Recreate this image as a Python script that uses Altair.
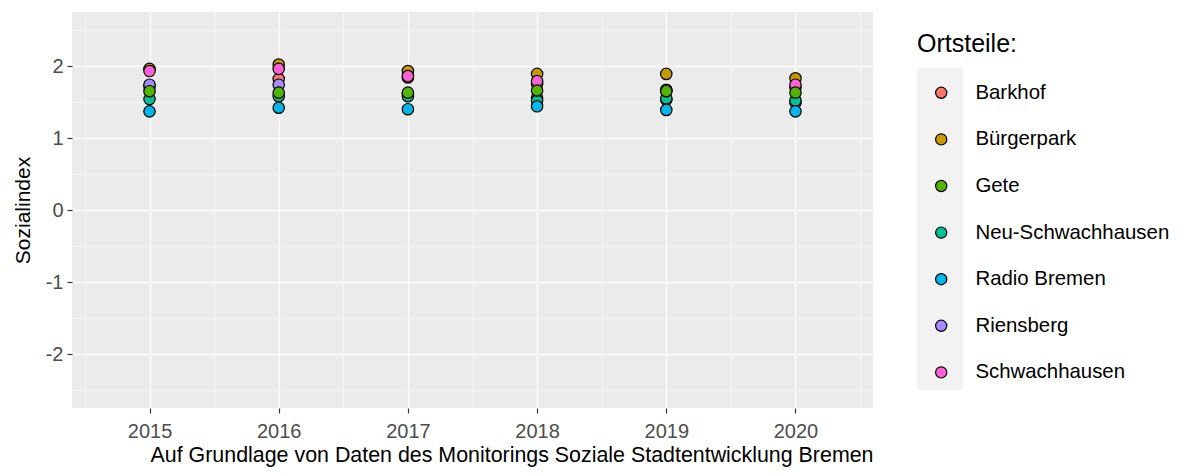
import altair as alt
import pandas as pd

years = [2015, 2016, 2017, 2018, 2019, 2020]
ortsteile = ["Barkhof", "Bürgerpark", "Gete", "Neu-Schwachhausen",
             "Radio Bremen", "Riensberg", "Schwachhausen"]
colors = ["#F8766D", "#C49A00", "#53B400", "#00C094", "#00B6EB", "#A58AFF", "#FB61D7"]

barkhof = [1.72, 1.82, 1.84, 1.75, 1.66, 1.70]
buergerpark = [1.96, 2.02, 1.93, 1.89, 1.89, 1.83]
gete = [1.65, 1.63, 1.63, 1.66, 1.65, 1.63]
neu_schwachhausen = [1.54, 1.58, 1.58, 1.52, 1.55, 1.52]
radio_bremen = [1.37, 1.42, 1.40, 1.44, 1.39, 1.37]
riensberg = [1.74, 1.74, 1.62, 1.56, 1.53, 1.49]
schwachhausen = [1.93, 1.96, 1.86, 1.79, 1.67, 1.74]

series = {
    "Barkhof": barkhof, "Bürgerpark": buergerpark, "Gete": gete,
    "Neu-Schwachhausen": neu_schwachhausen, "Radio Bremen": radio_bremen,
    "Riensberg": riensberg, "Schwachhausen": schwachhausen,
}
draw_order = ["Bürgerpark", "Barkhof", "Schwachhausen", "Riensberg",
              "Neu-Schwachhausen", "Gete", "Radio Bremen"]

rows = []
for i, name in enumerate(draw_order):
    for y, v in zip(years, series[name]):
        rows.append({"Jahr": y, "Sozialindex": v, "Ortsteil": name, "key": "_" + name, "o": i})
df = pd.DataFrame(rows)
keys = ["_" + n for n in ortsteile]

x_vals = [2014.5 + 0.5 * k for k in range(13)]
y_vals = [-2.5 + 0.5 * k for k in range(11)]

is_major = "datum.value % 1 == 0"
label_expr = f"{is_major} ? '' + datum.value : ''"

x_axis = alt.Axis(
    values=x_vals,
    labelExpr=label_expr,
    grid=True,
    gridColor="white",
    gridWidth=alt.condition(is_major, alt.value(1.3), alt.value(0.6)),
    tickOpacity=alt.condition(is_major, alt.value(1), alt.value(0)),
    tickColor="#333333", tickSize=5, tickWidth=1.2,
    domain=False,
    labelColor="#4D4D4D", labelFontSize=20, labelFont="Liberation Sans",
    labelPadding=8,
    title="Auf Grundlage von Daten des Monitorings Soziale Stadtentwicklung Bremen",
    titleAnchor="end", titleAlign="right", titleFontSize=21.4,
    titleFont="Liberation Sans", titleFontWeight="normal", titleColor="#000000",
    titlePadding=3,
)
y_axis = alt.Axis(
    values=y_vals,
    labelExpr=label_expr,
    grid=True,
    gridColor="white",
    gridWidth=alt.condition(is_major, alt.value(1.3), alt.value(0.6)),
    tickOpacity=alt.condition(is_major, alt.value(1), alt.value(0)),
    tickColor="#333333", tickSize=5, tickWidth=1.2,
    domain=False,
    labelColor="#4D4D4D", labelFontSize=20, labelFont="Liberation Sans",
    labelPadding=4,
    title="Sozialindex", titleFontSize=21, titleFont="Liberation Sans",
    titleFontWeight="normal", titleColor="#000000", titlePadding=12,
)

xs = alt.X("Jahr:Q", scale=alt.Scale(domain=[2014.4, 2020.6], nice=False, zero=False), axis=x_axis)
ys = alt.Y("Sozialindex:Q", scale=alt.Scale(domain=[-2.75, 2.75], nice=False, zero=False), axis=y_axis)

grey_legend = alt.Legend(
    orient="none", legendX=845, legendY=56, title=None,
    symbolType="square", symbolSize=46 * 46, symbolStrokeWidth=0,
    symbolFillColor="#F2F2F2", symbolStrokeColor="#F2F2F2", symbolOpacity=1,
    symbolOffset=0, rowPadding=0, padding=0, labelExpr="''", labelFontSize=1,
    zindex=0,
)
bg = alt.Chart(df).mark_point(filled=True, color="#F2F2F2", opacity=0).encode(
    x=xs, y=ys,
    shape=alt.Shape("key:N", scale=alt.Scale(domain=keys, range=["square"] * 7), legend=grey_legend),
)

color_legend = alt.Legend(
    orient="none", legendX=845, legendY=20, title="Ortsteile:",
    titleFontSize=25, titleFont="Liberation Sans", titleFontWeight="normal",
    titleColor="#000000", titlePadding=25.6,
    labelFontSize=20.4, labelFont="Liberation Sans", labelColor="#000000",
    labelLimit=300,
    symbolType="circle", symbolSize=125, symbolStrokeColor="#000000",
    symbolStrokeWidth=1.2, symbolOffset=14, labelOffset=24,
    rowPadding=25.6, padding=0, zindex=1,
)
points = alt.Chart(df).mark_circle(size=130, stroke="#000000", strokeWidth=1.2, opacity=1).encode(
    x=xs, y=ys,
    fill=alt.Fill("Ortsteil:N", scale=alt.Scale(domain=ortsteile, range=colors), legend=color_legend),
    order=alt.Order("o:Q"),
)

chart = alt.layer(bg, points).properties(
    width=801, height=396,
    autosize=alt.AutoSizeParams(type="none"),
    padding={"left": 64, "top": 4, "right": 299, "bottom": 59},
    background="white",
).configure_view(fill="#EBEBEB", stroke=None)

chart.save("out.html", embed_options={"renderer": "svg", "actions": False})
